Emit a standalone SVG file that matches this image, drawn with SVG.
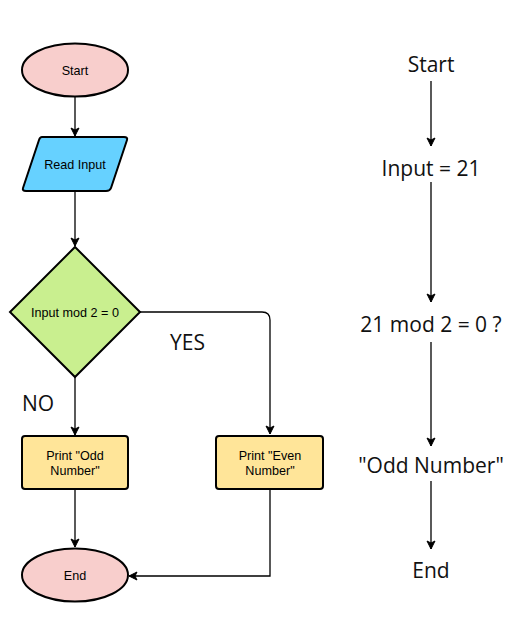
<svg xmlns="http://www.w3.org/2000/svg" width="521" height="628" viewBox="0 0 521 628">
<defs>
<marker id="arr" markerWidth="10" markerHeight="10" refX="9" refY="5" orient="auto" markerUnits="userSpaceOnUse">
<path d="M1,1 L9,5 L1,9 L3,5 z" fill="#000" stroke="#000" stroke-width="1"/>
</marker>
</defs>
<style>
.shape{stroke:#000;stroke-width:2}
.lbl{font-family:"Liberation Sans",Arial,sans-serif;font-size:12.6px;fill:#000;text-anchor:middle}
.big{font-family:"Open Sans","Noto Sans",sans-serif;font-size:21px;fill:#111;text-anchor:middle}
.yn{font-family:"Open Sans","Noto Sans",sans-serif;font-size:21px;fill:#111}
.con{fill:none;stroke:#000;stroke-width:1.3}
</style>
<rect width="521" height="628" fill="#fff"/>
<g id="connectors">
<path class="con" d="M75,97 V136" marker-end="url(#arr)"/>
<path class="con" d="M75,191 V246" marker-end="url(#arr)"/>
<path class="con" d="M140,312 H262 Q270,312 270,320 V434" marker-end="url(#arr)"/>
<path class="con" d="M75,377 V435" marker-end="url(#arr)"/>
<path class="con" d="M75,490 V547" marker-end="url(#arr)"/>
<path class="con" d="M270,490 V576 H129" marker-end="url(#arr)"/>
<path class="con" d="M431,81 V146" marker-end="url(#arr)"/>
<path class="con" d="M431,182 V302" marker-end="url(#arr)"/>
<path class="con" d="M431,342 V446" marker-end="url(#arr)"/>
<path class="con" d="M431,481 V549" marker-end="url(#arr)"/>
</g>
<g id="start">
<ellipse class="shape" cx="75" cy="70" rx="53" ry="26.5" fill="#f8cecc"/>
<text class="lbl" x="75" y="74.5">Start</text>
</g>
<g id="read-input">
<path class="shape" d="M42,137 H124 Q128,137 127,140 L111,188 Q110,191 106,191 H26 Q22,191 23,188 L39,140 Q40,137 42,137 Z" fill="#66d1ff"/>
<text class="lbl" x="75" y="168.5">Read Input</text>
</g>
<g id="decision">
<path class="shape" d="M75,247 L140,312 L75,377 L10,312 Z" fill="#c9ef8f"/>
<text class="lbl" x="75" y="316.5">Input mod 2 = 0</text>
</g>
<g id="print-odd">
<rect class="shape" x="22" y="436" width="106" height="53" rx="3" fill="#ffe599"/>
<text class="lbl" x="75" y="459.5">Print "Odd</text>
<text class="lbl" x="75" y="474.5">Number"</text>
</g>
<g id="print-even">
<rect class="shape" x="216" y="436" width="107" height="53" rx="3" fill="#ffe599"/>
<text class="lbl" x="270" y="459.5">Print "Even</text>
<text class="lbl" x="270" y="474.5">Number"</text>
</g>
<g id="end">
<ellipse class="shape" cx="75" cy="575" rx="53" ry="26.5" fill="#f8cecc"/>
<text class="lbl" x="75" y="579.5">End</text>
</g>
<g id="labels">
<text class="yn" x="170" y="350">YES</text>
<text class="yn" x="22" y="411">NO</text>
</g>
<g id="trace">
<text class="big" x="431" y="72">Start</text>
<text class="big" x="431" y="176">Input = 21</text>
<text class="big" x="431" y="332">21 mod 2 = 0 ?</text>
<text class="big" x="431" y="473">"Odd Number"</text>
<text class="big" x="431" y="578">End</text>
</g>
</svg>
